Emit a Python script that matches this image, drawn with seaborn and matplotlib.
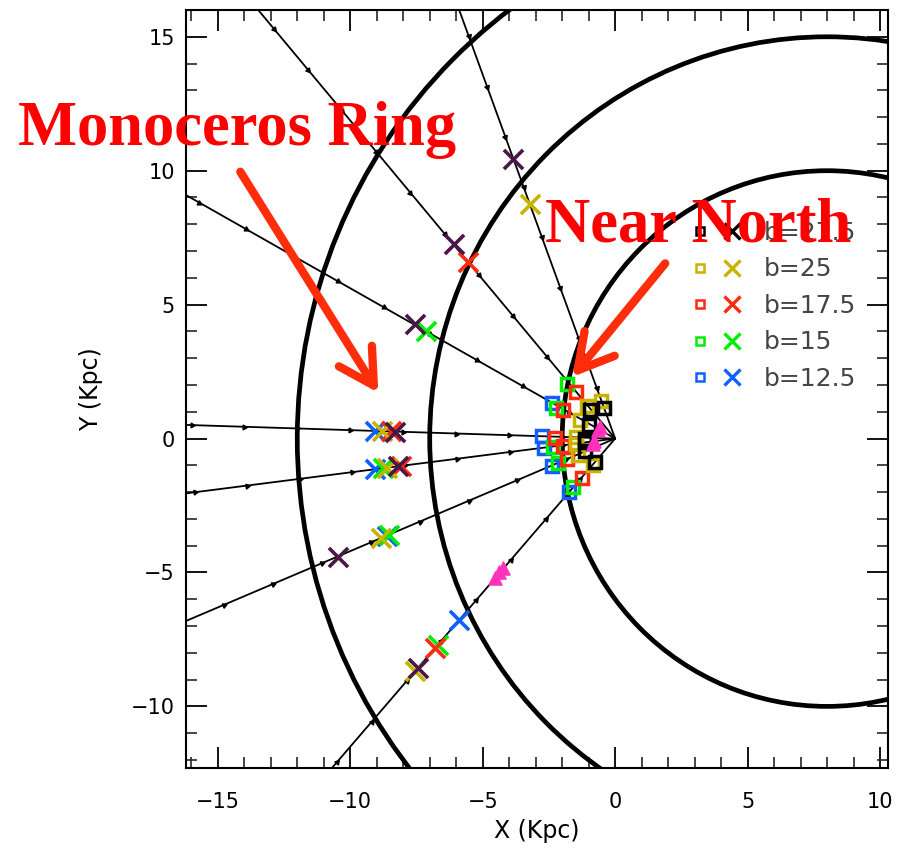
import numpy as np
import pandas as pd
import matplotlib
matplotlib.use("Agg")
import matplotlib.pyplot as plt
from matplotlib.patches import Circle
from matplotlib.lines import Line2D
from matplotlib.legend_handler import HandlerTuple
import seaborn as sns

# ---------------- data ----------------
# lines of sight from the Sun (origin), direction angle in degrees
ray_angle = [110.2, 130.1, 150.7, 178.2, 187.2, 202.8, 229.0]
ray_tick_step = 2.0          # kpc spacing of distance ticks on rays
gc_center = (8.0, 0.0)
ring_radii = [10.0, 15.0, 20.0]

b_labels = ["b=27.5", "b=25", "b=17.5", "b=15", "b=12.5"]
b_colors = ["#000000", "#c8b400", "#ff2a10", "#00ee00", "#1060ff"]
x_colors = ["#4a1848", "#c8b400", "#ff2a10", "#00ee00", "#1060ff"]

# near (square) points per latitude
sq_x = {
    "b=27.5": [-0.42, -0.94, -1.00, -1.13, -1.12, -1.13, -0.75],
    "b=25":   [-0.52, -1.05, -1.32, -1.48, -1.47, -1.40, -0.84],
    "b=17.5": [-1.48, -1.95, -2.26, -1.95, -1.81, -1.26],
    "b=15":   [-1.80, -2.22, -2.33, -2.14, -1.60],
    "b=12.5": [-2.39, -2.75, -2.70, -2.40, -1.74],
}
sq_y = {
    "b=27.5": [1.15, 1.05, 0.52, 0.00, -0.14, -0.48, -0.88],
    "b=25":   [1.40, 1.22, 0.70, 0.05, -0.19, -0.60, -0.97],
    "b=17.5": [1.72, 1.05, 0.02, -0.26, -0.77, -1.47],
    "b=15":   [2.05, 1.15, -0.30, -0.90, -1.82],
    "b=12.5": [1.33, 0.09, -0.34, -1.01, -2.00],
}
# far (cross) points per latitude
xx_x = {
    "b=27.5": [-3.85, -6.10, -7.55, -8.30, -8.20, -10.45, -7.45],
    "b=25":   [-3.20, -8.80, -8.60, -8.85, -7.55],
    "b=17.5": [-5.55, -8.45, -8.10, -6.80],
    "b=15":   [-7.15, -8.75, -8.55, -6.70],
    "b=12.5": [-9.05, -9.05, -8.60, -5.90],
}
xx_y = {
    "b=27.5": [10.45, 7.25, 4.27, 0.26, -1.04, -4.42, -8.55],
    "b=25":   [8.75, 0.28, -1.09, -3.72, -8.68],
    "b=17.5": [6.60, 0.27, -1.02, -7.82],
    "b=15":   [4.00, -1.10, -3.60, -7.70],
    "b=12.5": [0.28, -1.14, -3.62, -6.79],
}
tri_x = [-0.57, -0.65, -0.78, -0.85, -4.25, -4.40, -4.55]
tri_y = [0.42, 0.32, -0.10, -0.20, -4.85, -5.00, -5.20]

x_ticks = [-15, -10, -5, 0, 5, 10]
y_ticks = [-10, -5, 0, 5, 10, 15]

# ---------------- figure ----------------
sns.set_theme(style="white")
plt.rcParams["font.family"] = ["DejaVu Sans"]
plt.rcParams["axes.labelcolor"] = "black"
W, H = 904, 849
fig = plt.figure(figsize=(W / 100, H / 100), dpi=100)
ax = fig.add_axes([186 / W, 1 - 768 / H, 702 / W, 758 / H])

# rings around the Galactic centre
for r in ring_radii:
    ax.add_patch(Circle(gc_center, r, fill=False, ec="black", lw=3.4, zorder=2))

# rays
rows = []
for i, a in enumerate(ray_angle):
    t = np.deg2rad(a)
    for d in (0.0, 40.0):
        rows.append({"ray": i, "x": d * np.cos(t), "y": d * np.sin(t)})
rays = pd.DataFrame(rows)
sns.lineplot(data=rays, x="x", y="y", units="ray", estimator=None, sort=False,
             color="black", lw=1.3, ax=ax, zorder=3, legend=False)
dist = np.arange(ray_tick_step, 40, ray_tick_step)
for a in ray_angle:
    t = np.deg2rad(a)
    ax.plot(dist * np.cos(t), dist * np.sin(t), ls="none",
            marker=(3, 0, a + 180 - 90), ms=4, color="black", zorder=3)

# squares (near points)
order = [4, 3, 2, 1, 0]
for k in order:
    lab = b_labels[k]
    ax.plot(sq_x[lab], sq_y[lab], ls="none", marker="s", ms=8, mfc="none",
            mec=b_colors[k], mew=2.5, zorder=5)
# crosses (far points)
for k in order:
    lab = b_labels[k]
    df = pd.DataFrame({"x": xx_x[lab], "y": xx_y[lab]})
    sns.scatterplot(data=df, x="x", y="y", marker="x", s=190, linewidth=2.6,
                    color=x_colors[k], ax=ax, zorder=6, legend=False)
# magenta triangles
sns.scatterplot(x=tri_x, y=tri_y, marker="^", s=90, color="#ff33bb",
                edgecolor="#ff33bb", linewidth=1.0, ax=ax, zorder=7, legend=False)

# axes styling
ax.set_xlim(-16.2, 10.3)
ax.set_ylim(-12.3, 16.0)
ax.set_xticks(x_ticks)
ax.set_yticks(y_ticks)
ax.set_xticklabels([str(v).replace("-", "\u2212") for v in x_ticks])
ax.set_yticklabels([str(v).replace("-", "\u2212") for v in y_ticks])
ax.xaxis.set_minor_locator(matplotlib.ticker.MultipleLocator(1))
ax.yaxis.set_minor_locator(matplotlib.ticker.MultipleLocator(1))
ax.tick_params(which="major", direction="in", length=15, width=1.3,
               top=True, right=True, bottom=True, left=True,
               labelsize=15, colors="black")
ax.tick_params(axis="x", which="major", pad=17)
ax.tick_params(axis="y", which="major", pad=8)
ax.tick_params(which="minor", direction="in", length=8, width=1.2,
               top=True, right=True, bottom=True, left=True)
for s in ax.spines.values():
    s.set_color("black")
    s.set_linewidth(1.5)
ax.set_xlabel("X (Kpc)", fontsize=17, labelpad=5, color="black")
ax.set_ylabel("Y (Kpc)", fontsize=17, labelpad=20, color="black")
ax.grid(False)

# legend
handles = []
for k in range(len(b_labels)):
    h1 = Line2D([], [], ls="none", marker="s", ms=6, mfc="none",
                mec=b_colors[k], mew=1.8)
    h2 = Line2D([], [], ls="none", marker="x", ms=12, mew=2.4, color=b_colors[k])
    handles.append((h1, h2))
leg = ax.legend(handles=handles, labels=b_labels, loc="upper left",
                bbox_to_anchor=(0.703, 0.735), frameon=False, fontsize=18,
                handler_map={tuple: HandlerTuple(ndivide=None, pad=0.45)},
                handlelength=2.1, handletextpad=0.85, labelspacing=0.5,
                borderaxespad=0)
for t in leg.get_texts():
    t.set_color("#444444")

# annotations
red = "#ff0000"
fig.text(18 / W, 1 - 145 / H, "Monoceros Ring", fontfamily="Liberation Serif",
         fontweight="bold", fontsize=45, color=red, va="baseline", ha="left")
fig.text(545 / W, 1 - 242 / H, "Near North", fontfamily="Liberation Serif",
         fontweight="bold", fontsize=45, color=red, va="baseline", ha="left",
         zorder=20)
arrow_kw = dict(arrowstyle="->,head_length=0.5,head_width=0.28", lw=6,
                color="#ff2d0a", mutation_scale=50, shrinkA=0, shrinkB=0)
ax.annotate("", xy=(-8.94, 1.71), xytext=(-14.15, 9.96), arrowprops=arrow_kw,
            annotation_clip=False, zorder=15)
ax.annotate("", xy=(-1.62, 2.30), xytext=(1.89, 6.54), arrowprops=arrow_kw,
            annotation_clip=False, zorder=15)

fig.savefig("out.png", dpi=100)
